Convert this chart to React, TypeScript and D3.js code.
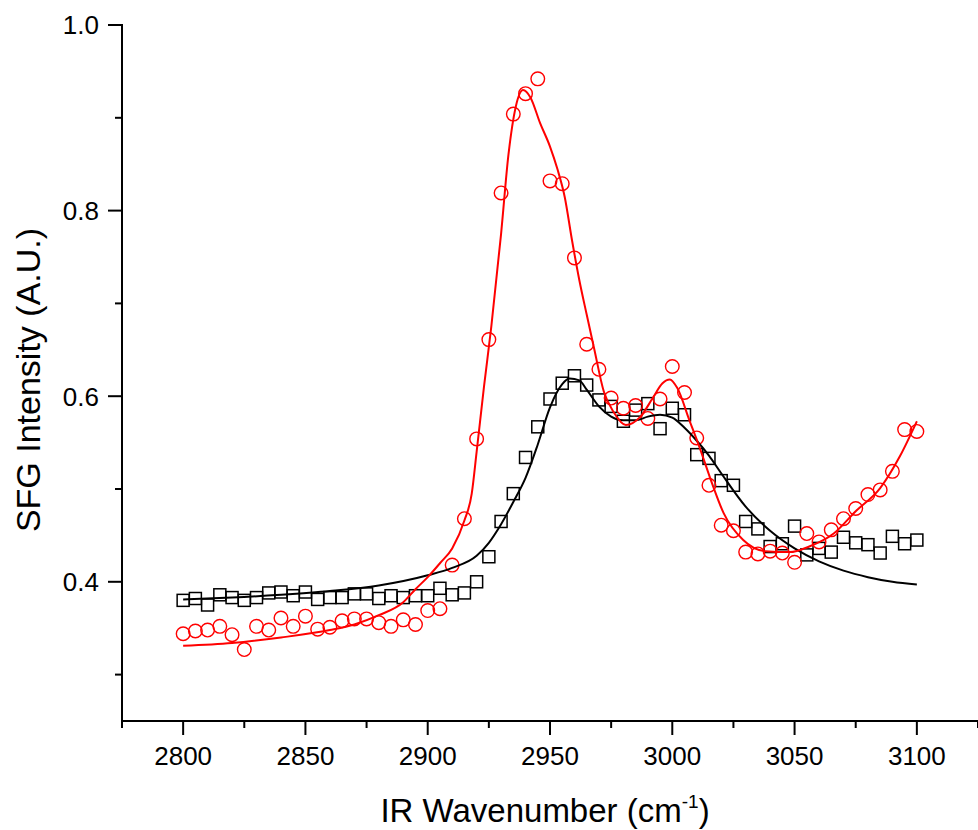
import React from "react";
import * as d3 from "d3";

// Measured data (IR wavenumber, cm^-1)
const wavenumbers: number[] = [
  2800, 2805, 2810, 2815, 2820, 2825, 2830, 2835, 2840, 2845, 2850, 2855, 2860, 2865, 2870,
  2875, 2880, 2885, 2890, 2895, 2900, 2905, 2910, 2915, 2920, 2925, 2930, 2935, 2940, 2945,
  2950, 2955, 2960, 2965, 2970, 2975, 2980, 2985, 2990, 2995, 3000, 3005, 3010, 3015, 3020,
  3025, 3030, 3035, 3040, 3045, 3050, 3055, 3060, 3065, 3070, 3075, 3080, 3085, 3090, 3095, 3100,
];

// Black squares
const squareValues: number[] = [
  0.380, 0.382, 0.375, 0.386, 0.383, 0.380, 0.383, 0.388, 0.389, 0.385, 0.389, 0.381, 0.383, 0.383, 0.387,
  0.387, 0.382, 0.385, 0.383, 0.385, 0.385, 0.393, 0.386, 0.388, 0.400, 0.427, 0.465, 0.495, 0.534, 0.567,
  0.597, 0.614, 0.622, 0.612, 0.596, 0.589, 0.573, 0.585, 0.592, 0.565, 0.587, 0.580, 0.537, 0.533, 0.509,
  0.504, 0.465, 0.457, 0.438, 0.441, 0.460, 0.429, 0.436, 0.432, 0.448, 0.442, 0.440, 0.431, 0.449, 0.441, 0.445,
];

// Red circles
const circleValues: number[] = [
  0.344, 0.347, 0.348, 0.352, 0.343, 0.327, 0.352, 0.348, 0.361, 0.352, 0.363, 0.349, 0.351, 0.358, 0.360,
  0.360, 0.356, 0.352, 0.359, 0.354, 0.369, 0.371, 0.418, 0.468, 0.554, 0.661, 0.819, 0.904, 0.926, 0.942,
  0.832, 0.829, 0.749, 0.656, 0.629, 0.598, 0.587, 0.590, 0.576, 0.597, 0.632, 0.604, 0.555, 0.504, 0.461,
  0.455, 0.432, 0.430, 0.433, 0.431, 0.421, 0.452, 0.443, 0.456, 0.468, 0.479, 0.494, 0.499, 0.519, 0.564, 0.562,
];

// Fit curve (black)
const blackFitX: number[] = [
  2800, 2820, 2840, 2860, 2880, 2900, 2910, 2920, 2925, 2930, 2935, 2940, 2945, 2950, 2955, 2958,
  2962, 2965, 2970, 2975, 2980, 2985, 2990, 2995, 3000, 3005, 3010, 3015, 3020, 3030, 3040, 3050,
  3060, 3070, 3080, 3090, 3100,
];
const blackFitY: number[] = [
  0.381, 0.383, 0.386, 0.390, 0.396, 0.407, 0.415, 0.428, 0.442, 0.462, 0.486, 0.512, 0.548, 0.588, 0.613, 0.619,
  0.617, 0.607, 0.589, 0.578, 0.574, 0.574, 0.578, 0.580, 0.577, 0.566, 0.552, 0.536, 0.517, 0.481, 0.455, 0.436,
  0.422, 0.412, 0.405, 0.400, 0.397,
];

// Fit curve (red)
const redFitX: number[] = [
  2800, 2820, 2840, 2860, 2870, 2880, 2890, 2895, 2900, 2905, 2910, 2915, 2918, 2920, 2923, 2926,
  2930, 2933, 2936, 2939, 2942, 2946, 2950, 2953, 2956, 2959, 2962, 2965, 2968, 2972, 2976, 2981,
  2987, 2992, 2996, 2999, 3002, 3007, 3011, 3016, 3021, 3029, 3038, 3048, 3056, 3066, 3075, 3085,
  3093, 3100,
];
const redFitY: number[] = [
  0.331, 0.334, 0.340, 0.348, 0.354, 0.364, 0.378, 0.392, 0.405, 0.420, 0.436, 0.466, 0.495, 0.540, 0.610, 0.675,
  0.775, 0.860, 0.912, 0.930, 0.922, 0.894, 0.869, 0.845, 0.815, 0.768, 0.725, 0.688, 0.652, 0.605, 0.583, 0.569,
  0.578, 0.598, 0.614, 0.618, 0.609, 0.574, 0.546, 0.508, 0.474, 0.445, 0.433, 0.432, 0.438, 0.452, 0.476, 0.501,
  0.535, 0.573,
];

const xMajorTicks: number[] = [2800, 2850, 2900, 2950, 3000, 3050, 3100];
const xMinorTicks: number[] = [2775, 2825, 2875, 2925, 2975, 3025, 3075, 3125];
const yMajorTicks: number[] = [0.4, 0.6, 0.8, 1.0];
const yMinorTicks: number[] = [0.3, 0.5, 0.7, 0.9];

const W = 978;
const H = 830;
const FONT = "'Liberation Sans', Arial, Helvetica, sans-serif";

export default function App() {
  const x = d3.scaleLinear().domain([2775, 3125]).range([122, 978]);
  const y = d3.scaleLinear().domain([0.25, 1.0]).range([721, 25]);

  const blackPts: [number, number][] = blackFitX.map((v, i) => [v, blackFitY[i]]);
  const redPts: [number, number][] = redFitX.map((v, i) => [v, redFitY[i]]);
  const line = d3
    .line<[number, number]>()
    .x((d) => x(d[0]))
    .y((d) => y(d[1]))
    .curve(d3.curveMonotoneX);

  const axisY = y(0.25);
  const axisX = x(2775);
  const sq = 12;

  return (
    <svg
      width={W}
      height={H}
      style={{ position: "absolute", left: 0, top: 0, background: "#fff" }}
      fontFamily={FONT}
    >
      <rect x={0} y={0} width={W} height={H} fill="#fff" />

      {/* markers */}
      {wavenumbers.map((v, i) => (
        <rect
          key={"s" + i}
          x={x(v) - sq / 2}
          y={y(squareValues[i]) - sq / 2}
          width={sq}
          height={sq}
          fill="none"
          stroke="#000"
          strokeWidth={1.5}
        />
      ))}
      {wavenumbers.map((v, i) => (
        <circle
          key={"c" + i}
          cx={x(v)}
          cy={y(circleValues[i])}
          r={6.8}
          fill="none"
          stroke="#ff0000"
          strokeWidth={1.4}
        />
      ))}

      {/* fit lines */}
      <path d={line(blackPts) || ""} fill="none" stroke="#000" strokeWidth={2} />
      <path d={line(redPts) || ""} fill="none" stroke="#ff0000" strokeWidth={2} />

      {/* axes */}
      <line x1={axisX} x2={axisX} y1={y(1.0) - 1} y2={axisY + 1} stroke="#000" strokeWidth={2} />
      <line x1={axisX - 1} x2={W} y1={axisY} y2={axisY} stroke="#000" strokeWidth={2} />

      {yMajorTicks.map((t) => (
        <g key={"ym" + t}>
          <line x1={axisX - 14} x2={axisX} y1={y(t)} y2={y(t)} stroke="#000" strokeWidth={2} />
          <text
            x={99}
            y={y(t)}
            dy="0.36em"
            textAnchor="end"
            fontSize={26}
            fill="#000"
          >
            {t.toFixed(1)}
          </text>
        </g>
      ))}
      {yMinorTicks.map((t) => (
        <line key={"yn" + t} x1={axisX - 7} x2={axisX} y1={y(t)} y2={y(t)} stroke="#000" strokeWidth={2} />
      ))}
      {xMajorTicks.map((t) => (
        <g key={"xm" + t}>
          <line x1={x(t)} x2={x(t)} y1={axisY} y2={axisY + 14} stroke="#000" strokeWidth={2} />
          <text x={x(t)} y={765} textAnchor="middle" fontSize={26} fill="#000">
            {t}
          </text>
        </g>
      ))}
      {xMinorTicks.map((t) => (
        <line key={"xn" + t} x1={x(t)} x2={x(t)} y1={axisY} y2={axisY + 7} stroke="#000" strokeWidth={2} />
      ))}

      {/* axis titles */}
      <text
        transform={`translate(40, 380) rotate(-90)`}
        textAnchor="middle"
        fontSize={34}
        fill="#000"
      >
        SFG Intensity (A.U.)
      </text>
      <text x={545} y={822} textAnchor="middle" fontSize={33} fill="#000">
        IR Wavenumber (cm
        <tspan fontSize={19} dy={-14}>-1</tspan>
        <tspan dy={14}>)</tspan>
      </text>
    </svg>
  );
}
